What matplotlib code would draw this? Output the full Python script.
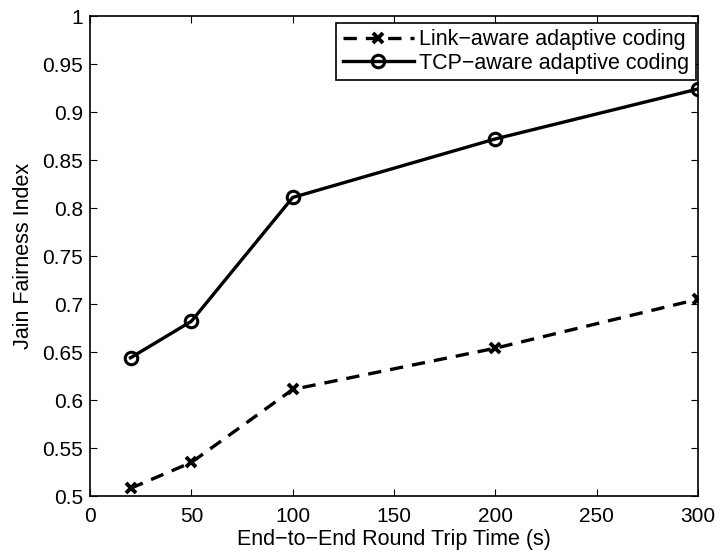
import matplotlib
matplotlib.use('Agg')
import matplotlib.pyplot as plt

plt.rcParams['font.family'] = ['Liberation Sans', 'DejaVu Sans']

rtt = [20, 50, 100, 200, 300]
link_aware = [0.508, 0.535, 0.611, 0.654, 0.705]
tcp_aware = [0.644, 0.682, 0.811, 0.872, 0.924]

fig = plt.figure(figsize=(7.16, 5.52), dpi=100)
ax = fig.add_axes([0.1257, 0.1014, 0.8493, 0.8696])

ax.plot(rtt, link_aware, 'k--', marker='x', markersize=7, markeredgewidth=2.8,
        linewidth=2.4, dashes=(4, 2.7), label='Link\u2212aware adaptive coding')
ax.plot(rtt, tcp_aware, 'k-', marker='o', markersize=9, markerfacecolor='none',
        markeredgewidth=2.2, linewidth=2.4, label='TCP\u2212aware adaptive coding')

ax.set_xlim(0, 300)
ax.set_ylim(0.5, 1)
ax.set_xticks([0, 50, 100, 150, 200, 250, 300])
ax.set_yticks([0.5, 0.55, 0.6, 0.65, 0.7, 0.75, 0.8, 0.85, 0.9, 0.95, 1])
ax.set_yticklabels(['0.5', '0.55', '0.6', '0.65', '0.7', '0.75', '0.8',
                    '0.85', '0.9', '0.95', '1'])
ax.tick_params(direction='in', top=True, right=True, labelsize=15, length=5)
ax.tick_params(axis='x', pad=8)
ax.tick_params(axis='y', pad=5)
for s in ax.spines.values():
    s.set_linewidth(1.2)

ax.set_xlabel('End\u2212to\u2212End Round Trip Time (s)', fontsize=15.5, labelpad=2)
ax.set_ylabel('Jain Fairness Index', fontsize=15.5, labelpad=6)

leg = ax.legend(loc='upper right', fontsize=15.5, fancybox=False, edgecolor='black',
                framealpha=1, handlelength=3.3, borderaxespad=0.1,
                borderpad=0.3, labelspacing=0.12, handletextpad=0.25,
                bbox_to_anchor=(1.0, 0.99))
leg.get_frame().set_linewidth(1.2)

fig.savefig('out.png', dpi=100)
